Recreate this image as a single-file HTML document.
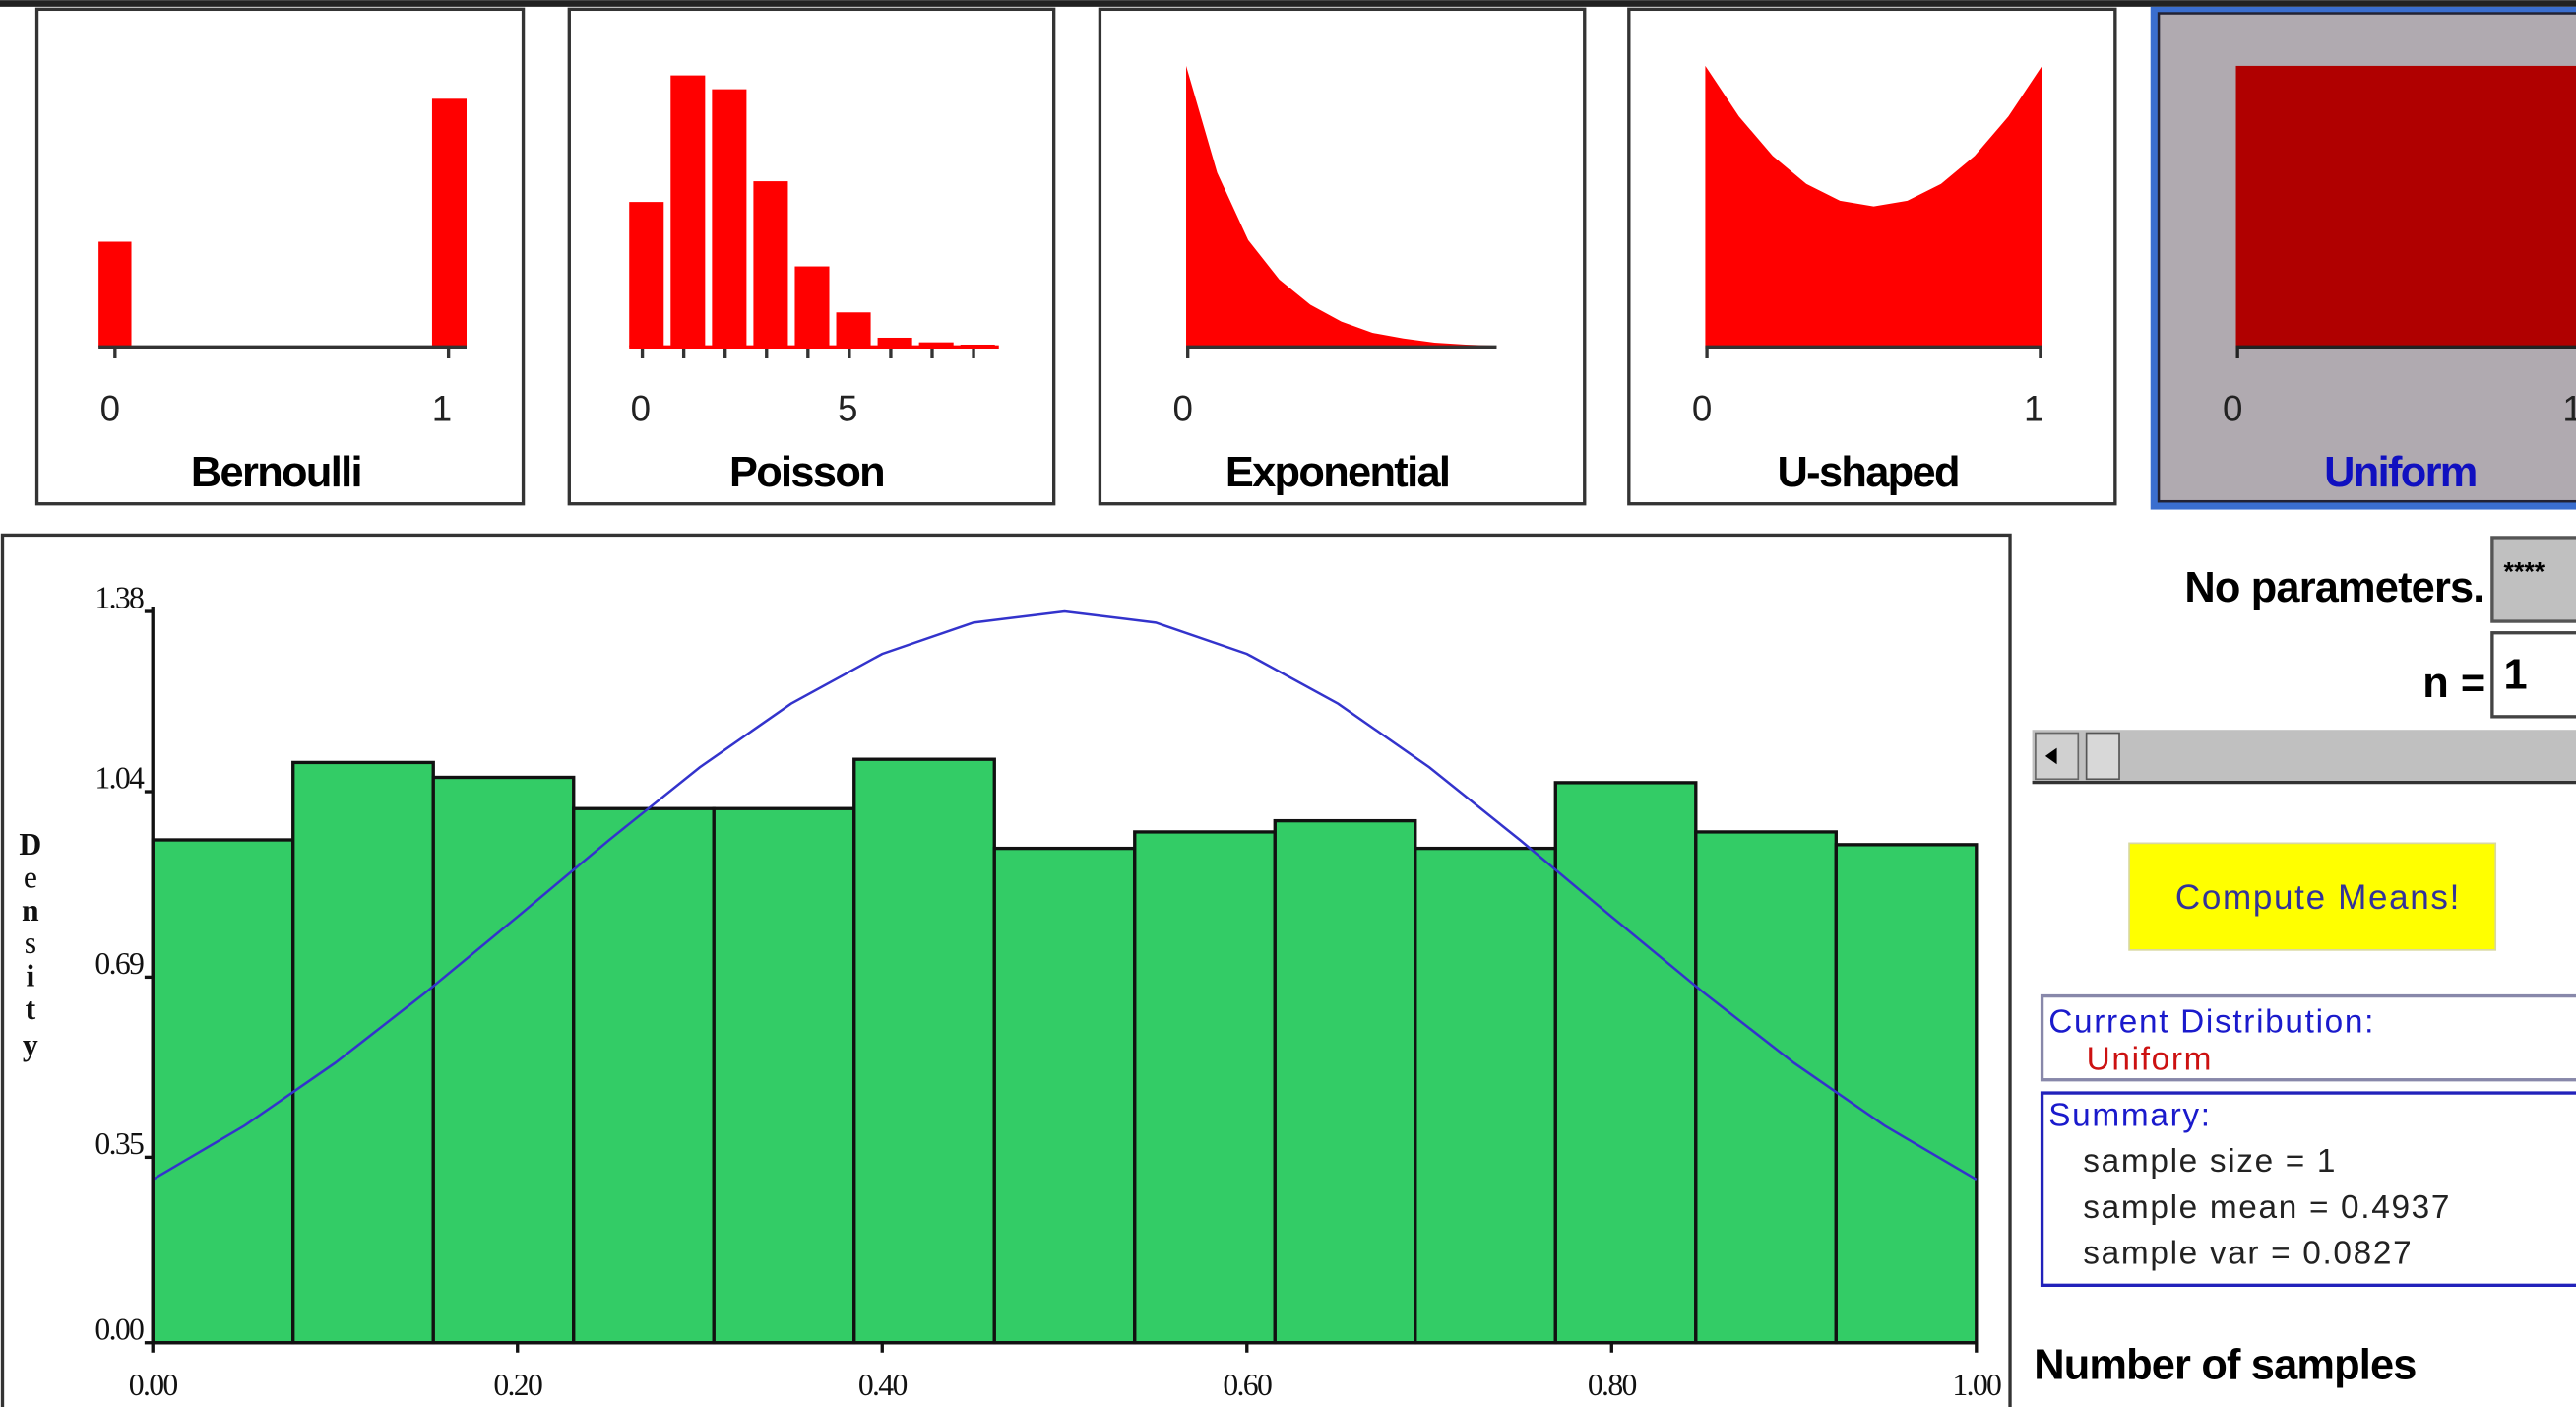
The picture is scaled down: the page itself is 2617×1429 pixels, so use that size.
<!DOCTYPE html>
<html><head><meta charset="utf-8"><style>
html,body{margin:0;padding:0;background:#fff;overflow:hidden}
svg{display:block}
text{font-family:"Liberation Sans",sans-serif}
.lab{font-weight:bold;font-size:26px;text-anchor:middle;letter-spacing:-1px}
.tk{font-size:22px;text-anchor:middle;fill:#222}
.ax{font-family:"Liberation Serif",serif;font-size:19px;fill:#111;letter-spacing:-1px}
.mono{font-size:20px;letter-spacing:1px}
</style></head><body>
<svg id="root" width="2617" height="1429" viewBox="0 0 1568 856">
<rect x="0" y="0" width="1568" height="4" fill="#222"/>
<!-- panels -->
<g>
<rect x="22.5" y="5.5" width="296" height="301" fill="#fff" stroke="#333" stroke-width="2"/>
<rect x="60" y="147" width="20" height="64" fill="#f00"/>
<rect x="263" y="60" width="21" height="151" fill="#f00"/>
<line x1="60" y1="211" x2="284" y2="211" stroke="#333" stroke-width="2"/>
<line x1="70" y1="211" x2="70" y2="218" stroke="#333" stroke-width="2"/><line x1="273" y1="211" x2="273" y2="218" stroke="#333" stroke-width="2"/>
<text class="tk" x="67" y="256">0</text><text class="tk" x="269" y="256">1</text>
<text class="lab" x="168" y="296">Bernoulli</text>
</g>
<g>
<rect x="346.5" y="5.5" width="295" height="301" fill="#fff" stroke="#333" stroke-width="2"/>
<g id="pois"></g>
<text class="tk" x="390" y="256">0</text><text class="tk" x="516" y="256">5</text>
<text class="lab" x="491" y="296">Poisson</text>
</g>
<g>
<rect x="669.5" y="5.5" width="295" height="301" fill="#fff" stroke="#333" stroke-width="2"/>
<path id="expo" fill="#f00"/>
<line x1="722" y1="211" x2="911" y2="211" stroke="#333" stroke-width="2"/>
<line x1="723" y1="211" x2="723" y2="218" stroke="#333" stroke-width="2"/>
<text class="tk" x="720" y="256">0</text>
<text class="lab" x="814" y="296">Exponential</text>
</g>
<g>
<rect x="991.5" y="5.5" width="296" height="301" fill="#fff" stroke="#333" stroke-width="2"/>
<path id="ushape" fill="#f00"/>
<line x1="1038" y1="211" x2="1243" y2="211" stroke="#333" stroke-width="2"/>
<line x1="1039" y1="211" x2="1039" y2="218" stroke="#333" stroke-width="2"/><line x1="1242" y1="211" x2="1242" y2="218" stroke="#333" stroke-width="2"/>
<text class="tk" x="1036" y="256">0</text><text class="tk" x="1238" y="256">1</text>
<text class="lab" x="1137" y="296">U-shaped</text>
</g>
<g>
<rect x="1309" y="4" width="270" height="306" fill="#3a6ecf"/>
<rect x="1314" y="8" width="270" height="297" fill="#b0aab0" stroke="#223" stroke-width="1.5"/>
<rect x="1361" y="40" width="220" height="171" fill="#b00000"/>
<line x1="1361" y1="211" x2="1568" y2="211" stroke="#222" stroke-width="2"/>
<line x1="1362" y1="211" x2="1362" y2="218" stroke="#222" stroke-width="2"/>
<text class="tk" x="1359" y="256">0</text><text class="tk" x="1566" y="256">1</text>
<text class="lab" x="1461" y="296" fill="#1010c0">Uniform</text>
</g>
<!-- main chart -->
<rect x="1.5" y="325.5" width="1222" height="535" fill="#fff" stroke="#333" stroke-width="2"/>
<g id="chart"></g>
<g>
<text class="ax" x="18" y="520" text-anchor="middle" font-weight="bold">D</text>
<text class="ax" x="18" y="540" text-anchor="middle">e</text>
<text class="ax" x="18" y="560" text-anchor="middle" font-weight="bold">n</text>
<text class="ax" x="18" y="580" text-anchor="middle">s</text>
<text class="ax" x="18" y="600" text-anchor="middle" font-weight="bold">i</text>
<text class="ax" x="18" y="620" text-anchor="middle" font-weight="bold">t</text>
<text class="ax" x="18" y="642" text-anchor="middle" font-weight="bold">y</text>
</g>
<!-- right side -->
<text x="1512" y="366" font-size="26" font-weight="bold" text-anchor="end" letter-spacing="-0.5">No parameters.</text>
<g>
<rect x="1517" y="327" width="60" height="51" fill="#c0c0c0" stroke="#555" stroke-width="2"/>
<text x="1524" y="353" font-size="16" font-weight="bold">****</text></g>
<text x="1513" y="424" font-size="26" font-weight="bold" text-anchor="end">n =</text>
<g>
<rect x="1517" y="385" width="60" height="51" fill="#fff" stroke="#444" stroke-width="2"/>
<text x="1524" y="419" font-size="26" font-weight="bold">1</text></g>
<g>
<rect x="1237" y="444" width="340" height="32" fill="#c0c0c0"/>
<line x1="1237" y1="476" x2="1568" y2="476" stroke="#333" stroke-width="2"/>
<rect x="1239" y="446" width="26" height="28" fill="#d0d0d0" stroke="#666"/>
<polygon points="1245,460 1252,455 1252,465" fill="#000"/>
<rect x="1270" y="446" width="20" height="28" fill="#d8d8d8" stroke="#555"/>
</g>
<g>
<rect x="1296" y="513" width="223" height="65" fill="#ffff00" stroke="#d8d8a0"/>
<text x="1411" y="553" font-size="21" fill="#333399" text-anchor="middle" letter-spacing="1">Compute Means!</text></g>
<g>
<rect x="1243" y="606" width="340" height="51" fill="#fff" stroke="#8888aa" stroke-width="2"/>
<text class="mono" x="1247" y="628" fill="#1a1acc">Current Distribution:</text>
<text class="mono" x="1270" y="651" fill="#cc1111">Uniform</text></g>
<g>
<rect x="1243" y="665" width="340" height="117" fill="#fff" stroke="#2222bb" stroke-width="2"/>
<text class="mono" x="1247" y="685" fill="#1a1acc">Summary:</text>
<text class="mono" x="1268" y="713" fill="#222">sample size = 1</text>
<text class="mono" x="1268" y="741" fill="#222">sample mean = 0.4937</text>
<text class="mono" x="1268" y="769" fill="#222">sample var = 0.0827</text></g>
<text x="1238" y="839" font-size="26" font-weight="bold" letter-spacing="-0.5">Number of samples</text>
</svg>
<script>
const histBins = 13;
const histDensity = [0.949,1.095,1.067,1.008,1.008,1.101,0.933,0.964,0.985,0.933,1.057,0.964,0.940];
const curveX = [0,0.05,0.1,0.15,0.2,0.25,0.3,0.35,0.4,0.45,0.5,0.55,0.6,0.65,0.7,0.75,0.8,0.85,0.9,0.95,1];
const curveY = [0.308,0.409,0.528,0.662,0.804,0.948,1.086,1.206,1.300,1.359,1.380,1.359,1.300,1.206,1.086,0.948,0.804,0.662,0.528,0.409,0.308];
const yTicks = [0,0.35,0.69,1.04,1.38];
const yTickLabels = ["0.00","0.35","0.69","1.04","1.38"];
const xTicks = [0,0.2,0.4,0.6,0.8,1];
const xTickLabels = ["0.00","0.20","0.40","0.60","0.80","1.00"];
const poissonProb = [0.63,1.18,1.12,0.72,0.35,0.15,0.04,0.02,0.01];
const expoRate = [1,0.62,0.38,0.24,0.15,0.09,0.05,0.03,0.015,0.008,0.004];
const uShape = [1,0.82,0.68,0.58,0.52,0.5,0.52,0.58,0.68,0.82,1];

const NS="http://www.w3.org/2000/svg";
function mk(t,a,p){const e=document.createElementNS(NS,t);for(const k in a)e.setAttribute(k,a[k]);p.appendChild(e);return e;}
const X0=93,X1=1203,Y0=817,Y1=372,YMAX=1.38;
const sx=v=>X0+v*(X1-X0), sy=v=>Y0-v/YMAX*(Y0-Y1);
const g=document.getElementById('chart');
for(let i=0;i<histBins;i++){
  const r=mk('rect',{x:sx(i/histBins),y:sy(histDensity[i]),width:sx(1/histBins)-X0,height:Y0-sy(histDensity[i]),fill:'#33cc66',stroke:'#111','stroke-width':2},g);
  
  
}
const pl=mk('polyline',{points:curveX.map((x,i)=>sx(x)+','+sy(curveY[i])).join(' '),fill:'none',stroke:'#3333cc','stroke-width':1.5},g);


mk('line',{x1:X0,y1:Y1-3,x2:X0,y2:Y0,stroke:'#111','stroke-width':2},g);
mk('line',{x1:X0,y1:Y0,x2:X1,y2:Y0,stroke:'#111','stroke-width':2},g);
yTicks.forEach((v,i)=>{
  mk('line',{x1:X0-5,y1:sy(v),x2:X0,y2:sy(v),stroke:'#111','stroke-width':2},g);
  const t=mk('text',{x:X0-6,y:sy(v)-2,'text-anchor':'end',class:'ax'},g);t.textContent=yTickLabels[i];
  
  
});
xTicks.forEach((v,i)=>{
  mk('line',{x1:sx(v),y1:Y0,x2:sx(v),y2:Y0+6,stroke:'#111','stroke-width':2},g);
  const t=mk('text',{x:sx(v),y:Y0+32,'text-anchor':'middle',class:'ax'},g);t.textContent=xTickLabels[i];
  
  
});
// poisson thumbnail
const pg=document.getElementById('pois');
poissonProb.forEach((p,i)=>{
  const h=p*140;
  const r=mk('rect',{x:383+i*25.2,y:211-h,width:21,height:h,fill:'#f00'},pg);
  
  
  mk('line',{x1:391+i*25.2,y1:211,x2:391+i*25.2,y2:218,stroke:'#333','stroke-width':2},pg);
});
mk('line',{x1:383,y1:211,x2:608,y2:211,stroke:'#f00','stroke-width':2},pg);
// exponential thumbnail
let d='M722,211 ';expoRate.forEach((v,i)=>{d+='L'+(722+i*18.9)+','+(211-v*171)+' ';});d+='L911,211Z';
document.getElementById('expo').setAttribute('d',d);
let u='M1038,211 ';uShape.forEach((v,i)=>{u+='L'+(1038+i*20.5)+','+(211-v*171)+' ';});u+='L1243,211Z';
document.getElementById('ushape').setAttribute('d',u);
</script>
</body></html>
